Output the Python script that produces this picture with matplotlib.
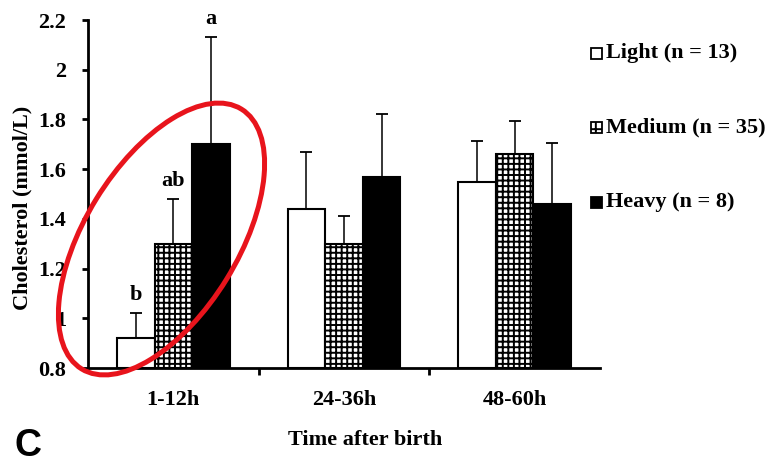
import matplotlib
matplotlib.use("Agg")
import matplotlib.pyplot as plt
import numpy as np
from matplotlib.patches import Ellipse, Rectangle
from matplotlib.transforms import Affine2D

categories = ["1-12h", "24-36h", "48-60h"]
series = ["Light (n = 13)", "Medium (n = 35)", "Heavy (n = 8)"]
light = [0.92, 1.44, 1.55]
medium = [1.30, 1.30, 1.66]
heavy = [1.70, 1.57, 1.46]
light_err = [0.10, 0.23, 0.165]
medium_err = [0.18, 0.11, 0.135]
heavy_err = [0.43, 0.25, 0.245]
letters_light = ["b", "", ""]
letters_medium = ["ab", "", ""]
letters_heavy = ["a", "", ""]
yticks = [0.8, 1, 1.2, 1.4, 1.6, 1.8, 2, 2.2]
ytick_labels = ["0.8", "1", "1.2", "1.4", "1.6", "1.8", "2", "2.2"]

plt.rcParams['font.family'] = ['Liberation Serif', 'DejaVu Serif']
plt.rcParams['hatch.linewidth'] = 1.4
plt.rcParams['hatch.color'] = 'black'

W, H = 769, 463
fig = plt.figure(figsize=(W / 100, H / 100), dpi=100)
ax = fig.add_axes([88 / W, 1 - 368 / H, (600 - 88) / W, (368 - 20) / H])
pix = Affine2D().scale(1 / W, 1 / H) + fig.transFigure

x = np.arange(len(categories))
bw = 0.22
styles = [
    dict(facecolor='white', hatch=None),
    dict(facecolor='white', hatch='+++'),
    dict(facecolor='black', hatch=None),
]
vals = [light, medium, heavy]
errs = [light_err, medium_err, heavy_err]
letters = [letters_light, letters_medium, letters_heavy]
for i in range(3):
    xs = x + (i - 1) * bw
    ax.bar(xs, np.array(vals[i]) - 0.8, bottom=0.8, width=bw,
           edgecolor='black', linewidth=1.5, zorder=2, **styles[i])
    ax.errorbar(xs, vals[i], yerr=[np.zeros(3), errs[i]], fmt='none',
                ecolor='black', elinewidth=1.1, capsize=4.5, capthick=1.3, zorder=1)
    for xi, v, e, t in zip(xs, vals[i], errs[i], letters[i]):
        if t:
            ax.annotate(t, (xi, v + e), xytext=(0, 6), textcoords='offset points',
                        ha='center', va='bottom', fontsize=16, fontweight='bold')

ax.set_xlim(-0.5, 2.5)
ax.set_ylim(0.8, 2.2)
ax.set_yticks(yticks)
ax.set_yticklabels(ytick_labels, fontsize=16, fontweight='bold')
ax.set_xticks(x)
ax.set_xticklabels(categories, fontsize=16, fontweight='bold')
ax.tick_params(axis='x', length=0, pad=16)
ax.set_xticks([0.5, 1.5], minor=True)
ax.tick_params(axis='x', which='minor', length=5, width=2, direction='out')
ax.tick_params(axis='y', length=4.5, width=2, direction='out', pad=11)
for s in ['top', 'right']:
    ax.spines[s].set_visible(False)
for s in ['left', 'bottom']:
    ax.spines[s].set_linewidth(2)
    ax.spines[s].set_zorder(3)

fig.text(365, H - 440, "Time after birth", transform=pix, fontsize=16,
         fontweight='bold', ha='center', va='center')
fig.text(22, H - 208, "Cholesterol (mmol/L)", transform=pix, fontsize=16,
         fontweight='bold', ha='center', va='center', rotation=90)

# legend (manual)
row_y = [53, 127, 202]
for i in range(3):
    cy = H - row_y[i]
    r = Rectangle((591, cy - 5.5), 11, 11, transform=pix,
                  facecolor=styles[i]['facecolor'], edgecolor='black', linewidth=1.3,
                  hatch='++' if styles[i]['hatch'] else None)
    fig.patches.append(r)
    r.set_figure(fig)
    fig.text(606, cy, series[i], transform=pix, fontsize=16, fontweight='bold',
             ha='left', va='center')

ell = Ellipse((161.5, H - 239), width=305, height=153, angle=58.4, fill=False,
              edgecolor='#e8141c', linewidth=3.6, transform=pix, zorder=10)
fig.patches.append(ell)
ell.set_figure(fig)

fig.text(14, H - 446, "C", transform=pix, fontsize=27, fontweight='bold',
         family='Liberation Sans', va='center', ha='left')

fig.savefig("out.png", dpi=100)
